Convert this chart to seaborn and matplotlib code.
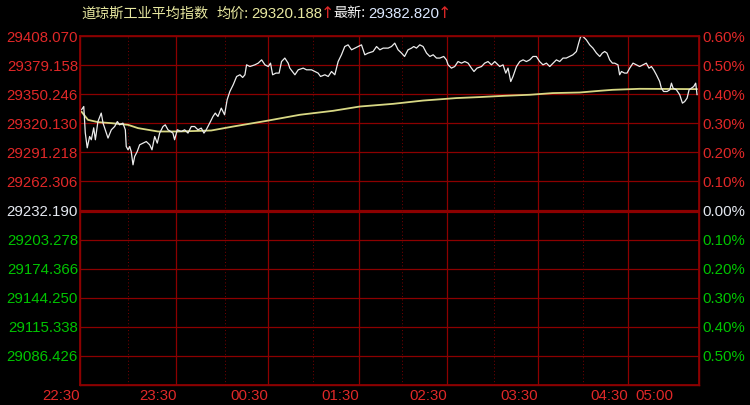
import numpy as np
import pandas as pd
import matplotlib
matplotlib.use('Agg')
import matplotlib.pyplot as plt
import seaborn as sns

# base (previous close) and axis labels
base = 29232.190
left_labels = ['29408.070', '29379.158', '29350.246', '29320.130', '29291.218', '29262.306',
               '29232.190', '29203.278', '29174.366', '29144.250', '29115.338', '29086.426']
right_labels = ['0.60%', '0.50%', '0.40%', '0.30%', '0.20%', '0.10%',
                '0.00%', '0.10%', '0.20%', '0.30%', '0.40%', '0.50%']
label_pct = [0.6, 0.5, 0.4, 0.3, 0.2, 0.1, 0.0, -0.1, -0.2, -0.3, -0.4, -0.5]

time_labels = ['22:30', '23:30', '00:30', '01:30', '02:30', '03:30', '04:30', '05:00']
time_pos = [0, 64, 125, 185, 244, 304, 364, 394]
half_pos = [32, 96, 155, 214, 275, 334]

# minute index and price of the index line
price_min = [1.0, 2.5, 3.5, 4.8, 6.4, 7.5, 9.1, 10.2, 11.9, 14.1, 15.3, 16.4, 18.6, 20.8, 23.0, 24.8,
             26.3, 28.5, 30.1, 30.7, 31.9, 33.0, 34.0, 35.2, 36.3, 38.0, 39.6, 41.8, 44.0, 46.3,
             47.8, 49.6, 51.3, 52.9, 55.1, 56.6, 58.4, 60.2, 61.7, 62.8, 64.6, 67.2, 69.5, 71.7,
             73.9, 76.1, 78.3, 80.5, 82.3, 83.8, 86.1, 88.3, 89.8, 91.6, 93.8, 96.0, 97.7, 99.5,
             101.7, 104.0, 106.2, 108.0, 109.5, 110.6, 112.8, 116.1, 118.3, 120.6, 122.8, 125.0,
             126.5, 127.9, 130.1, 132.2, 133.8, 136.0, 138.2, 139.3, 142.7, 144.9, 148.2, 150.4,
             153.7, 155.9, 158.1, 159.7, 162.6, 164.8, 167.0, 169.2, 171.4, 173.6, 175.8, 178.0,
             180.3, 182.5, 184.7, 186.9, 189.1, 191.3, 194.6, 196.9, 199.1, 201.3, 204.6, 206.8,
             209.0, 211.2, 213.5, 215.5, 217.8, 220.1, 221.6, 223.4, 225.6, 227.8, 230.1, 232.3,
             234.5, 236.7, 238.9, 241.5, 243.3, 244.4, 246.6, 248.8, 251.0, 253.3, 255.5, 257.7,
             259.9, 261.6, 263.6, 266.6, 268.7, 270.9, 273.2, 275.4, 278.7, 280.9, 282.7, 284.2,
             286.0, 287.5, 289.8, 292.0, 294.2, 296.4, 298.6, 300.8, 303.0, 305.2, 307.4, 309.7,
             311.9, 314.1, 316.3, 318.5, 320.7, 322.9, 325.1, 327.3, 329.6, 331.1, 332.4, 334.0,
             336.2, 338.4, 340.6, 342.9, 345.1, 346.8, 348.4, 349.9, 351.7, 353.5, 355.0, 357.2,
             358.3, 359.5, 361.6, 363.2, 365.0, 367.2, 369.4, 371.6, 373.8, 376.0, 377.8, 379.4,
             380.9, 382.7, 384.9, 386.0, 387.5, 389.8, 391.6, 392.7, 393.8, 396.0, 398.2, 400.0,
             401.5, 403.1, 404.4, 406.0, 407.5, 408.8, 409.7]
price = [29333.4, 29336.7, 29310.3, 29295.2, 29306.6, 29303.3, 29315.3, 29303.3, 29321.6, 29330.1,
         29320.0, 29315.0, 29305.0, 29313.3, 29316.6, 29321.6, 29318.3, 29320.0, 29313.3, 29296.5,
         29293.2, 29296.5, 29291.5, 29278.1, 29286.5, 29291.5, 29298.2, 29299.9, 29301.5, 29298.2,
         29293.2, 29306.6, 29299.9, 29310.0, 29316.6, 29318.3, 29313.3, 29311.6, 29310.0, 29303.3,
         29313.3, 29311.6, 29313.3, 29310.0, 29316.6, 29316.6, 29313.3, 29315.0, 29310.0, 29313.3,
         29320.0, 29326.7, 29330.1, 29326.7, 29335.1, 29328.4, 29343.5, 29351.8, 29358.5, 29366.9,
         29368.6, 29365.9, 29368.6, 29378.6, 29376.9, 29378.6, 29380.3, 29383.6, 29378.6, 29376.9,
         29380.3, 29368.6, 29370.3, 29370.3, 29381.9, 29385.4, 29380.3, 29375.3, 29368.6, 29373.6,
         29375.3, 29373.6, 29373.6, 29371.9, 29370.3, 29366.9, 29368.6, 29366.9, 29371.9, 29368.6,
         29381.9, 29388.7, 29397.0, 29398.7, 29393.7, 29395.4, 29397.0, 29398.7, 29388.7, 29390.4,
         29392.0, 29397.0, 29393.7, 29395.4, 29395.4, 29397.0, 29400.4, 29393.7, 29390.4, 29387.0,
         29393.7, 29395.4, 29397.0, 29395.4, 29398.7, 29397.0, 29390.4, 29387.0, 29388.7, 29385.4,
         29385.4, 29387.0, 29383.6, 29378.6, 29375.3, 29376.9, 29381.9, 29380.3, 29381.9, 29380.3,
         29375.3, 29371.9, 29375.3, 29376.9, 29380.3, 29381.9, 29378.6, 29381.9, 29376.9, 29378.6,
         29370.3, 29375.3, 29361.8, 29366.9, 29376.9, 29381.9, 29383.6, 29381.9, 29383.6, 29387.0,
         29387.0, 29381.9, 29378.6, 29380.3, 29376.9, 29380.3, 29383.6, 29381.9, 29385.4, 29385.4,
         29387.0, 29388.7, 29392.0, 29400.4, 29407.1, 29407.1, 29403.7, 29398.7, 29395.4, 29390.4,
         29387.0, 29390.4, 29392.0, 29390.4, 29383.6, 29380.3, 29380.3, 29378.6, 29368.6, 29371.9,
         29370.3, 29370.3, 29375.3, 29380.3, 29378.6, 29376.9, 29378.6, 29380.3, 29375.3, 29376.9,
         29373.6, 29368.6, 29361.8, 29355.2, 29351.8, 29351.8, 29353.5, 29360.2, 29355.2, 29353.5,
         29348.5, 29340.1, 29341.7, 29345.2, 29353.5, 29355.2, 29356.8, 29360.2, 29348.5]

# average price line
avg_min = [1.0, 5.3, 11.9, 20.8, 31.9, 38.5, 45.1, 51.8, 65.0, 87.1, 101.7, 123.9, 146.0, 168.1,
           185.8, 207.9, 227.8, 250.0, 265.4, 282.0, 298.6, 313.9, 331.8, 345.1, 353.7, 371.6, 409.7]
avg = [29331.5, 29323.3, 29321.0, 29320.0, 29318.3, 29315.0, 29313.3, 29311.6, 29311.6, 29312.6,
       29316.6, 29322.3, 29328.4, 29332.4, 29336.7, 29339.4, 29342.7, 29345.2, 29346.2, 29347.5,
       29348.5, 29350.2, 29350.8, 29352.5, 29353.5, 29354.5, 29354.2]

df = pd.DataFrame({'minute': price_min, 'pct': (np.array(price) / base - 1) * 100})
df_avg = pd.DataFrame({'minute': avg_min, 'pct': (np.array(avg) / base - 1) * 100})

sns.set_theme(style='dark', rc={'axes.facecolor': 'black', 'figure.facecolor': 'black',
                                'axes.edgecolor': '#8c0000', 'axes.grid': False})
plt.rcParams['font.family'] = ['Liberation Sans', 'Noto Sans CJK SC', 'DejaVu Sans']

RED = '#e02828'
GREEN = '#00c400'
GRID = '#8c0000'

fig = plt.figure(figsize=(7.5, 4.05), dpi=100)
ax = fig.add_axes([80 / 750, 1 - 385 / 405, 619 / 750, 349 / 405])

# grid
for p in label_pct:
    if p == 0:
        ax.axhline(p, color=GRID, lw=2.3, zorder=1)
    elif p != 0.6:
        ax.axhline(p, color=GRID, lw=0.9, zorder=1)
for t in time_pos[1:-1]:
    ax.axvline(t, color=GRID, lw=0.9, zorder=1)
for t in half_pos:
    ax.axvline(t, color='#7a0000', lw=0.7, ls=(0, (1, 2.5)), zorder=1)

sns.lineplot(data=df_avg, x='minute', y='pct', ax=ax, color='#d8d884', lw=1.3, zorder=3)
sns.lineplot(data=df, x='minute', y='pct', ax=ax, color='#ececec', lw=0.9, zorder=4)

ax.set_xlim(0, 411)
ax.set_ylim(-0.6, 0.6)
ax.set_xlabel('')
ax.set_ylabel('')
for s in ax.spines.values():
    s.set_color(GRID)
    s.set_linewidth(1.0)

# x ticks: small marks at hour lines, labels right aligned to the line
ax.set_xticks(time_pos[:-1])
ax.set_xticklabels([])
ax.tick_params(axis='x', length=4, width=0.9, color=GRID, direction='out', pad=0)
for t, lab in zip(time_pos, time_labels):
    ax.text(t, -0.012, lab, transform=ax.get_xaxis_transform(), ha='right', va='top',
            color=RED, fontsize=10.8)

# left price labels
ax.set_yticks(label_pct)
ax.set_yticklabels(left_labels, fontsize=10.8)
ax.tick_params(axis='y', length=0, pad=1.5)
for lab, p in zip(ax.get_yticklabels(), label_pct):
    lab.set_color(RED if p > 0 else ('#e4e8f0' if p == 0 else GREEN))

# right percent labels
ax2 = ax.twinx()
ax2.set_ylim(-0.6, 0.6)
ax2.set_yticks(label_pct)
ax2.set_yticklabels(right_labels, fontsize=10.8)
ax2.tick_params(axis='y', length=0, pad=2.5)
ax2.grid(False)
for s in ax2.spines.values():
    s.set_color(GRID)
for lab, p in zip(ax2.get_yticklabels(), label_pct):
    lab.set_color(RED if p > 0 else ('#e4e8f0' if p == 0 else GREEN))

# header
ty = 1 - 13.5 / 405
cjk = ['Noto Sans CJK SC', 'DejaVu Sans']
parts = [(81, '道琼斯工业平均指数', '#e8e8a0', 10.2, cjk),
         (216, '均价:', '#e8e8a0', 10.2, cjk),
         (251, '29320.188', '#e8e8a0', 10.8, None),
         (321, '↑', RED, 11.5, ['DejaVu Sans']),
         (333, '最新:', '#f0f0f0', 10.2, cjk),
         (368, '29382.820', '#dce8ff', 10.8, None),
         (438, '↑', RED, 11.5, ['DejaVu Sans'])]
for x, s, c, fs, fam in parts:
    kw = {'family': fam} if fam else {}
    fig.text(x / 750, ty, s, color=c, fontsize=fs, ha='left', va='center', **kw)

fig.savefig('out.png', dpi=100, facecolor='black')
